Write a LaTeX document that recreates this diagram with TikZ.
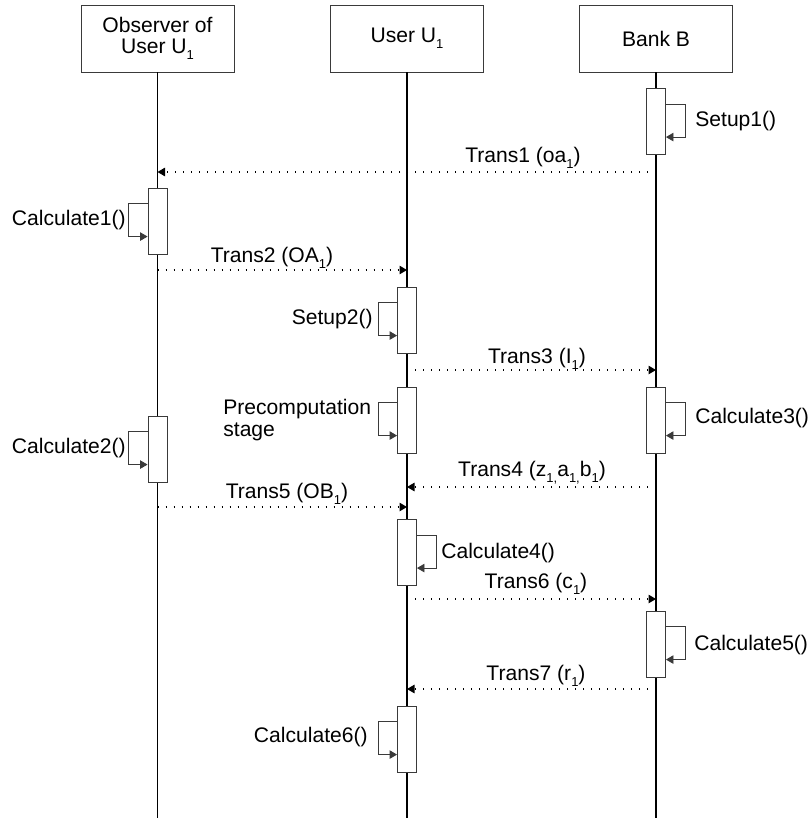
\documentclass[tikz,border=0pt]{standalone}
\usepackage{fontspec}
\setmainfont{Liberation Sans}
\usepackage{tikz}
\usetikzlibrary{arrows.meta,positioning}
\definecolor{Frame}{HTML}{3A3A3A}
\newcommand{\lowidx}[1]{\raisebox{-3.4pt}{\fontsize{7.4}{7.4}\selectfont #1}}
\tikzset{
    every node/.style={font=\fontsize{12}{12.3}\selectfont},
    headbox/.style={
        draw=Frame, fill=white, line width=0.5pt,
        minimum width=30.6mm, minimum height=13.4mm,
        align=center, inner sep=1pt
    },
    actbox/.style={
        draw=Frame, fill=white, line width=0.5pt,
        minimum width=3.8mm, minimum height=13.2mm, inner sep=0pt
    },
    lifeline/.style={line width=0.9pt, black},
    selfcall/.style={
        -{Triangle[length=1.5mm,width=1.7mm]}, line width=0.5pt, Frame
    },
    msg/.style={
        -{Triangle[length=1.5mm,width=1.7mm]}, line width=0.6pt,
        dash pattern=on 0.25mm off 1.35mm, black
    },
    calltext/.style={inner sep=0pt},
}

\begin{document}
\begin{tikzpicture}[x=0.2mm, y=-0.2mm]
    \useasboundingbox (0,0) rectangle (810,819);

    % Participants
    \node[headbox] (obs) at (157.5,38.5) {Observer of\\User U\lowidx{1}};
    \node[headbox] (user) at (407,38.5) {User U\lowidx{1}};
    \node[headbox] (bank) at (656,38.5) {Bank B};

    % Lifelines
    \coordinate (obsend) at (157.5,818);
    \coordinate (userend) at (407,818);
    \coordinate (bankend) at (656,818);
    \draw[lifeline] (obs.south) -- (obsend);
    \draw[lifeline] (user.south) -- (userend);
    \draw[lifeline] (bank.south) -- (bankend);

    % Activations of Bank B
    \node[actbox] (setupA) at (656,121.5) {};
    \node[actbox] (calcC) at (656,420) {};
    \node[actbox] (calcE) at (656,644) {};
    % Activations of the observer
    \node[actbox] (calcA) at (157.5,221) {};
    \node[actbox] (calcB) at (157.5,449) {};
    % Activations of User U1
    \node[actbox] (setupB) at (407,320) {};
    \node[actbox] (precomp) at (407,420) {};
    \node[actbox] (calcD) at (407,552.5) {};
    \node[actbox] (calcF) at (407,739) {};

    % Self calls, right side
    \draw[selfcall] ([yshift=-3.2mm]setupA.north east) -- ++(19,0) -- ++(0,33) -- ++(-19,0);
    \draw[selfcall] ([yshift=-3.2mm]calcC.north east) -- ++(19,0) -- ++(0,33) -- ++(-19,0);
    \draw[selfcall] ([yshift=-3.2mm]calcE.north east) -- ++(19,0) -- ++(0,33) -- ++(-19,0);
    \draw[selfcall] ([yshift=-3.2mm]calcD.north east) -- ++(19,0) -- ++(0,33) -- ++(-19,0);
    % Self calls, left side
    \draw[selfcall] ([yshift=-3.2mm]calcA.north west) -- ++(-19,0) -- ++(0,33) -- ++(19,0);
    \draw[selfcall] ([yshift=-3.2mm]calcB.north west) -- ++(-19,0) -- ++(0,33) -- ++(19,0);
    \draw[selfcall] ([yshift=-3.2mm]setupB.north west) -- ++(-19,0) -- ++(0,33) -- ++(19,0);
    \draw[selfcall] ([yshift=-3.2mm]precomp.north west) -- ++(-19,0) -- ++(0,33) -- ++(19,0);
    \draw[selfcall] ([yshift=-3.2mm]calcF.north west) -- ++(-19,0) -- ++(0,33) -- ++(19,0);

    \node[calltext, anchor=west] at (695,121) {Setup1()};
    \node[calltext, anchor=west] at (695,418) {Calculate3()};
    \node[calltext, anchor=west] at (694,645) {Calculate5()};
    \node[calltext, anchor=west] at (441,553) {Calculate4()};
    \node[calltext, anchor=east] at (126,220) {Calculate1()};
    \node[calltext, anchor=east] at (126,448) {Calculate2()};
    \node[calltext, anchor=east] at (373,319) {Setup2()};
    \node[calltext, anchor=east] at (368,737) {Calculate6()};
    \node[calltext, anchor=west, align=left] at (223,420) {Precomputation\\stage};

    % Messages
    \draw[msg] (bank |- 0,172) -- (obs |- 0,172);
    \node at (523,158) {Trans1 (oa\lowidx{1})};
    \draw[msg] (obs |- 0,270) -- (user |- 0,270);
    \node at (272,258) {Trans2 (OA\lowidx{1})};
    \draw[msg] (user |- 0,370) -- (bank |- 0,370);
    \node at (537,359) {Trans3 (I\lowidx{1})};
    \draw[msg] (bank |- 0,487) -- (user |- 0,487);
    \node at (532,473) {Trans4 (z\lowidx{1,}a\lowidx{1,}b\lowidx{1})};
    \draw[msg] (obs |- 0,507) -- (user |- 0,507);
    \node at (287,494) {Trans5 (OB\lowidx{1})};
    \draw[msg] (user |- 0,599) -- (bank |- 0,599);
    \node at (536,584) {Trans6 (c\lowidx{1})};
    \draw[msg] (bank |- 0,689) -- (user |- 0,689);
    \node at (536,676) {Trans7 (r\lowidx{1})};
\end{tikzpicture}
\end{document}
